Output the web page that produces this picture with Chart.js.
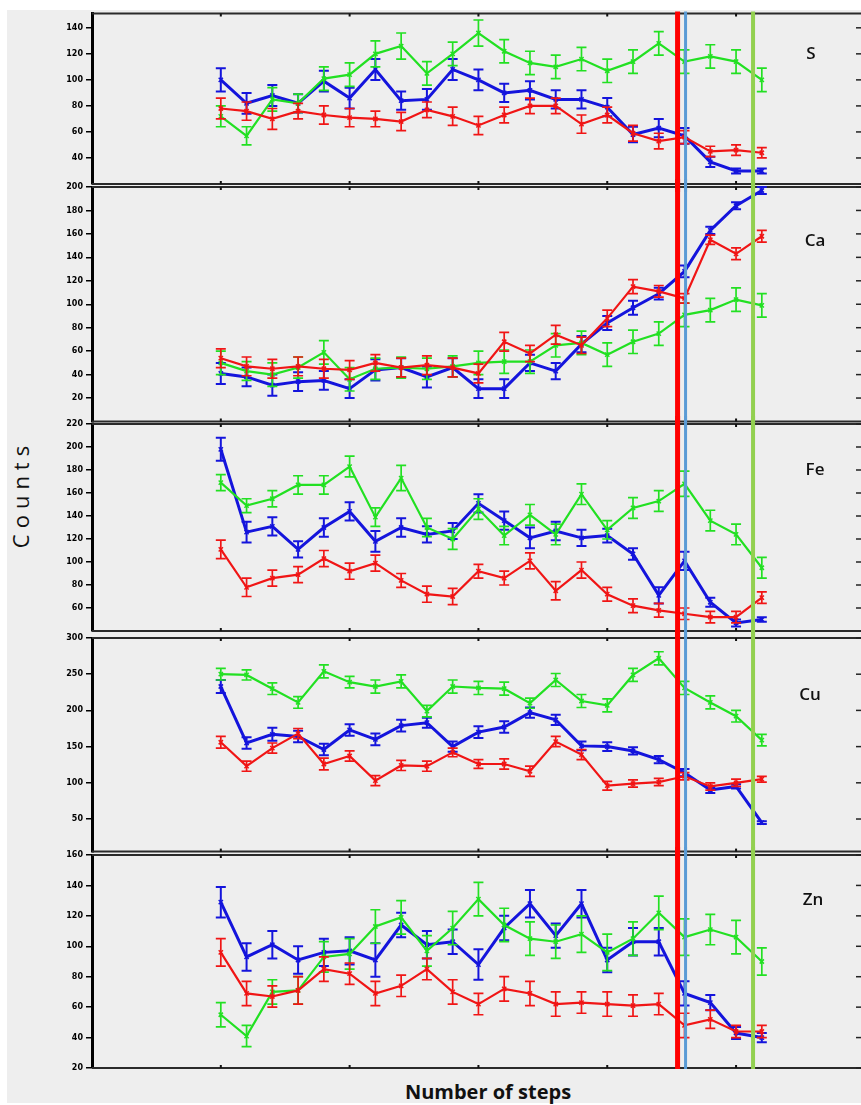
<!DOCTYPE html>
<html>
<head>
<meta charset="utf-8">
<script src="https://cdn.jsdelivr.net/npm/chart.js@4.4.1/dist/chart.umd.min.js"></script>
<style>
  html, body { margin: 0; padding: 0; background: #fff; }
  body { width: 861px; height: 1105px; position: relative; overflow: hidden; font-family: "Open Sans", sans-serif; }
  #bg { position: absolute; left: 7px; top: 10px; width: 854px; height: 1093px; background: #eeeeee; }
  canvas { position: absolute; left: 0; }
  .tag { position: absolute; font-size: 17px; font-weight: 600; color: #111; line-height: 1; transform: translate(-50%, -50%); }
  #ylab { position: absolute; left: 20px; top: 494px; transform: translate(-50%, -50%) rotate(-90deg); font-size: 22px; letter-spacing: 6px; white-space: nowrap; color: #111; line-height: 1; }
  #xlab { position: absolute; left: 488px; top: 1092px; transform: translate(-50%, -50%); font-size: 20px; font-weight: 700; white-space: nowrap; color: #111; line-height: 1; }
</style>
</head>
<body>
<div id="bg"></div>
<div id="ylab">Counts</div>
<div id="xlab">Number of steps</div>

<script>
// --- data ---
const steps = [0, 1, 2, 3, 4, 5, 6, 7, 8, 9, 10, 11, 12, 13, 14, 15, 16, 17, 18, 19, 20, 21];
const stepTicks = [0, 5, 10, 15, 20];
const vlineSteps = [17.73, 18.04, 20.66];

// S
const sRed   = [78, 76, 70, 76, 73, 71, 70, 68, 77, 72, 65, 73, 80, 80, 66, 73, 59, 53, 56, 45, 46, 44];
const sGreen = [72, 57, 85, 82, 101, 104, 120, 126, 105, 120, 136, 122, 113, 110, 116, 107, 114, 128, 114, 118, 114, 100];
const sBlue  = [100, 82, 88, 82, 99, 86, 108, 84, 85, 108, 100, 90, 92, 85, 85, 79, 58, 63, 57, 37, 30, 30];
const sRedErr   = [8, 7, 8, 6, 7, 7, 6, 7, 6, 7, 7, 6, 6, 6, 7, 6, 6, 6, 5, 4, 4, 4];
const sGreenErr = [8, 7, 9, 7, 9, 9, 10, 10, 9, 9, 10, 9, 9, 9, 9, 9, 9, 9, 9, 9, 9, 9];
const sBlueErr  = [9, 8, 8, 7, 8, 8, 8, 7, 8, 8, 8, 7, 7, 7, 7, 7, 6, 7, 6, 4, 2, 2];
const sTicks = [40, 60, 80, 100, 120, 140];

// Ca
const caRed   = [54, 47, 45, 47, 45, 44, 50, 46, 48, 46, 41, 68, 58, 74, 65, 88, 115, 111, 105, 155, 143, 158];
const caGreen = [50, 43, 40, 46, 59, 36, 45, 46, 45, 47, 50, 51, 51, 65, 67, 57, 68, 75, 91, 95, 104, 99];
const caBlue  = [41, 38, 31, 34, 35, 28, 44, 46, 38, 46, 28, 28, 50, 43, 66, 84, 97, 109, 128, 163, 184, 197];
const caRedErr   = [8, 8, 8, 8, 8, 8, 7, 8, 8, 8, 8, 8, 7, 8, 7, 7, 6, 5, 4, 4, 5, 5];
const caGreenErr = [10, 8, 10, 9, 10, 10, 9, 9, 9, 9, 10, 10, 10, 10, 10, 10, 10, 10, 10, 10, 10, 10];
const caBlueErr  = [9, 8, 9, 8, 8, 8, 9, 8, 9, 8, 8, 8, 7, 7, 7, 6, 6, 5, 5, 3, 3, 3];
const caTicks = [20, 40, 60, 80, 100, 120, 140, 160, 180, 200];

// Fe
const feRed   = [111, 78, 86, 89, 103, 92, 99, 84, 72, 70, 92, 86, 101, 75, 93, 72, 62, 58, 55, 52, 52, 69];
const feGreen = [169, 149, 155, 167, 167, 183, 139, 173, 130, 120, 146, 123, 141, 124, 159, 128, 147, 153, 168, 136, 124, 95];
const feBlue  = [198, 126, 131, 111, 130, 144, 118, 130, 124, 127, 151, 136, 121, 127, 121, 123, 107, 71, 101, 65, 47, 50];
const feRedErr   = [8, 8, 7, 7, 7, 7, 7, 6, 7, 7, 6, 6, 7, 8, 7, 6, 6, 6, 5, 5, 5, 5];
const feGreenErr = [7, 6, 7, 8, 8, 9, 8, 11, 8, 9, 9, 8, 9, 9, 9, 8, 9, 9, 11, 9, 9, 9];
const feBlueErr  = [10, 9, 8, 7, 8, 8, 9, 8, 7, 7, 8, 8, 9, 8, 7, 6, 5, 7, 8, 4, 3, 2];
const feTicks = [60, 80, 100, 120, 140, 160, 180, 200, 220];

// Cu
const cuRed   = [156, 123, 148, 168, 126, 137, 103, 124, 123, 142, 126, 126, 116, 157, 139, 96, 99, 101, 109, 95, 100, 105];
const cuGreen = [250, 249, 230, 211, 254, 239, 233, 240, 199, 233, 231, 230, 210, 242, 213, 207, 249, 272, 231, 211, 192, 159];
const cuBlue  = [233, 155, 167, 164, 146, 173, 160, 179, 183, 150, 170, 177, 197, 187, 151, 150, 144, 132, 114, 90, 95, 45];
const cuRedErr   = [8, 7, 7, 7, 8, 7, 7, 7, 7, 6, 6, 7, 7, 7, 7, 6, 5, 5, 5, 5, 5, 4];
const cuGreenErr = [8, 7, 8, 8, 9, 8, 9, 9, 8, 9, 9, 9, 7, 9, 9, 9, 9, 9, 9, 9, 8, 8];
const cuBlueErr  = [9, 8, 9, 8, 8, 8, 8, 8, 7, 7, 8, 8, 7, 7, 6, 6, 5, 5, 5, 4, 3, 2];
const cuTicks = [50, 100, 150, 200, 250, 300];

// Zn
const znRed   = [96, 69, 67, 71, 85, 82, 69, 74, 85, 70, 62, 72, 69, 62, 63, 62, 61, 62, 48, 52, 44, 44];
const znGreen = [55, 41, 70, 71, 93, 95, 113, 119, 97, 112, 131, 114, 105, 103, 108, 96, 105, 122, 106, 111, 106, 90];
const znBlue  = [129, 93, 101, 91, 96, 97, 91, 114, 101, 103, 88, 112, 128, 107, 128, 91, 103, 103, 69, 63, 43, 40];
const znRedErr   = [9, 8, 7, 9, 8, 7, 8, 7, 7, 8, 7, 8, 8, 8, 7, 8, 7, 7, 8, 6, 4, 4];
const znGreenErr = [8, 7, 8, 9, 10, 10, 11, 11, 10, 11, 11, 11, 11, 11, 12, 12, 11, 11, 12, 10, 11, 9];
const znBlueErr  = [10, 9, 9, 9, 9, 9, 11, 8, 9, 8, 10, 8, 9, 8, 9, 8, 9, 9, 8, 5, 4, 3];
const znTicks = [20, 40, 60, 80, 100, 120, 140, 160];

// --- layout / styles ---
const RED = '#f01515', GREEN = '#22e022', BLUE = '#1414dc';
const vlineColors = ['#ff0000', '#5b9bd5', '#92d050'];
const vlineWidths = [5, 3, 4];

const panels = [
  { name: 'S',  min: 20, max: 151, ticks: sTicks,  top: 13.5, bottom: 184,   tag: [811, 52],
    series: [[sRed, sRedErr], [sGreen, sGreenErr], [sBlue, sBlueErr]] },
  { name: 'Ca', min: 0,  max: 200, ticks: caTicks, top: 187,  bottom: 421.5, tag: [815, 239],
    series: [[caRed, caRedErr], [caGreen, caGreenErr], [caBlue, caBlueErr]] },
  { name: 'Fe', min: 40, max: 220, ticks: feTicks, top: 424,  bottom: 631,   tag: [815, 468],
    series: [[feRed, feRedErr], [feGreen, feGreenErr], [feBlue, feBlueErr]] },
  { name: 'Cu', min: 5,  max: 300, ticks: cuTicks, top: 638,  bottom: 851.6, tag: [810, 693],
    series: [[cuRed, cuRedErr], [cuGreen, cuGreenErr], [cuBlue, cuBlueErr]] },
  { name: 'Zn', min: 20, max: 160, ticks: znTicks, top: 855,  bottom: 1068,  tag: [813, 898],
    series: [[znRed, znRedErr], [znGreen, znGreenErr], [znBlue, znBlueErr]] }
];

const colors = [RED, GREEN, BLUE];
const widths = [2.2, 2.2, 3];

// frame, right ticks, error bars and marker lines
const panelPlugin = {
  id: 'panelPlugin',
  beforeDatasetsDraw(chart) {
    const { ctx, chartArea: a, scales: { x, y } } = chart;
    ctx.save();
    ctx.strokeStyle = '#2a2a2a';
    ctx.lineWidth = 2;
    ctx.beginPath();
    ctx.moveTo(a.left, a.top); ctx.lineTo(a.right, a.top);
    ctx.moveTo(a.left, a.bottom); ctx.lineTo(a.right, a.bottom);
    ctx.stroke();
    ctx.fillStyle = '#111';
    stepTicks.forEach(s => {
      const px = x.getPixelForValue(s);
      ctx.fillRect(px - 1, a.top, 2, 3);
      ctx.fillRect(px - 1, a.bottom - 3, 2, 3);
    });
    ctx.strokeStyle = '#222';
    ctx.lineWidth = 1.5;
    y.ticks.forEach(t => {
      const py = y.getPixelForValue(t.value);
      ctx.beginPath();
      ctx.moveTo(a.right - 5, py); ctx.lineTo(a.right, py);
      ctx.stroke();
    });
    ctx.restore();
  },
  afterDatasetDraw(chart, args) {
    const ds = chart.data.datasets[args.index];
    const { ctx, scales: { x, y } } = chart;
    ctx.save();
    ctx.strokeStyle = ds.borderColor;
    ctx.lineWidth = ds.borderWidth === 3 ? 2 : 1.7;
    ctx.beginPath();
    ds.data.forEach((p, i) => {
      const e = ds.err[i];
      const px = x.getPixelForValue(p.x);
      const y1 = y.getPixelForValue(p.y + e);
      const y2 = y.getPixelForValue(p.y - e);
      ctx.moveTo(px, y1); ctx.lineTo(px, y2);
      ctx.moveTo(px - 5, y1); ctx.lineTo(px + 5, y1);
      ctx.moveTo(px - 5, y2); ctx.lineTo(px + 5, y2);
    });
    ctx.stroke();
    ctx.restore();
  },
  afterDatasetsDraw(chart, args, opts) {
    const { ctx, chartArea: a, scales: { x } } = chart;
    const y0 = opts.first ? a.top - 2 : 0;
    const y1 = opts.last ? a.bottom + 1 : chart.height;
    ctx.save();
    vlineSteps.forEach((s, i) => {
      const px = x.getPixelForValue(s);
      ctx.fillStyle = vlineColors[i];
      ctx.fillRect(px - vlineWidths[i] / 2, y0, vlineWidths[i], y1 - y0);
    });
    ctx.restore();
  }
};

panels.forEach((p, k) => {
  const cTop = Math.floor(p.top) - 8;
  const cH = Math.ceil(p.bottom) + 8 - cTop;
  const canvas = document.createElement('canvas');
  canvas.width = 861;
  canvas.height = cH;
  canvas.style.top = cTop + 'px';
  canvas.style.width = '861px';
  canvas.style.height = cH + 'px';
  document.body.appendChild(canvas);

  const tag = document.createElement('div');
  tag.className = 'tag';
  tag.textContent = p.name;
  tag.style.left = p.tag[0] + 'px';
  tag.style.top = p.tag[1] + 'px';
  document.body.appendChild(tag);

  new Chart(canvas, {
    type: 'line',
    data: {
      datasets: p.series.map((s, j) => ({
        data: steps.map((st, i) => ({ x: st, y: s[0][i] })),
        err: s[1],
        borderColor: colors[j],
        backgroundColor: colors[j],
        borderWidth: widths[j],
        pointStyle: 'crossRot',
        pointRadius: 3,
        pointBorderWidth: 1.5,
        pointBorderColor: colors[j],
        tension: 0,
        fill: false
      }))
    },
    options: {
      responsive: false,
      animation: false,
      events: [],
      layout: { autoPadding: false, padding: { top: p.top - cTop, bottom: cTop + cH - p.bottom, left: 0, right: 0 } },
      plugins: {
        legend: { display: false },
        tooltip: { enabled: false },
        panelPlugin: { first: k === 0, last: k === panels.length - 1 }
      },
      scales: {
        x: { type: 'linear', min: -5, max: 24.85, display: false },
        y: {
          type: 'linear',
          min: p.min,
          max: p.max,
          afterBuildTicks: sc => { sc.ticks = p.ticks.map(v => ({ value: v })); },
          afterFit: sc => { sc.width = 92; sc.paddingTop = 0; sc.paddingBottom = 0; },
          border: { display: true, color: '#000', width: 3 },
          grid: { display: true, drawOnChartArea: false, drawTicks: true, tickLength: 6, color: '#000', lineWidth: 1.5 },
          ticks: {
            padding: 3,
            color: '#000',
            font: { family: 'DejaVu Sans', size: 8, weight: 'bold' }
          }
        }
      }
    },
    plugins: [panelPlugin]
  });
});
</script>
</body>
</html>
